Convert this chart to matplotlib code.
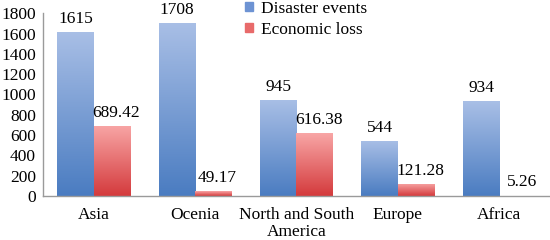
import matplotlib.pyplot as plt
import numpy as np
from matplotlib.colors import LinearSegmentedColormap

regions = ["Asia", "Ocenia", "North and South\nAmerica", "Europe", "Africa"]
disaster_events = [1615, 1708, 945, 544, 934]
economic_loss = [689.42, 49.17, 616.38, 121.28, 5.26]
yticks = [0, 200, 400, 600, 800, 1000, 1200, 1400, 1600, 1800]

plt.rcParams['font.family'] = ['Liberation Serif', 'DejaVu Serif']

blue_cmap = LinearSegmentedColormap.from_list("b", ["#4a7cc1", "#a9bfe6"])
red_cmap = LinearSegmentedColormap.from_list("r", ["#d43a3c", "#f8a6a6"])


def gradient_fill(ax, bars, cmap):
    grad = np.linspace(0, 1, 256).reshape(-1, 1)
    for b in bars:
        x0, y0 = b.get_x(), b.get_y()
        w, h = b.get_width(), b.get_height()
        im = ax.imshow(grad, cmap=cmap, origin="lower", aspect="auto",
                       extent=[x0, x0 + w, y0, y0 + h], zorder=2)
        im.set_clip_path(b)
        b.set_facecolor("none")


fig = plt.figure(figsize=(5.5, 2.4), dpi=100)
ax = fig.add_axes([0.078, 0.183, 0.922, 0.762])

fs = 12.5
x = np.arange(len(regions))
w = 0.36
b1 = ax.bar(x - w / 2, disaster_events, w, color=blue_cmap(0.6), edgecolor="none",
            label="Disaster events", zorder=2)
b2 = ax.bar(x + w / 2, economic_loss, w, color=red_cmap(0.6), edgecolor="none",
            label="Economic loss", zorder=2)
gradient_fill(ax, b1, blue_cmap)
gradient_fill(ax, b2, red_cmap)

for xi, v in zip(x, disaster_events):
    ax.text(xi - w / 2, v + 88, str(v), ha="center", va="baseline", fontsize=fs,
            clip_on=False)
for xi, v in zip(x, economic_loss):
    ax.text(xi + w / 2 + 0.04, v + 90, f"{v:.2f}", ha="center", va="baseline",
            fontsize=fs, clip_on=False)

ax.set_xlim(-0.5, len(regions) - 0.5)
ax.set_ylim(0, 1800)
ax.set_yticks(yticks)
ax.set_yticklabels([str(t) for t in yticks], fontsize=fs)
ax.set_xticks(x)
ax.set_xticklabels(regions, fontsize=fs, linespacing=1.05)
ax.tick_params(length=0)
ax.tick_params(axis="x", pad=8)
ax.tick_params(axis="y", pad=5)
for s in ["top", "right"]:
    ax.spines[s].set_visible(False)
for s in ["left", "bottom"]:
    ax.spines[s].set_color("#9a9a9a")
    ax.spines[s].set_linewidth(1.0)

leg = ax.legend(handles=[plt.Rectangle((0, 0), 1, 1, color="#6d93d3"),
                         plt.Rectangle((0, 0), 1, 1, color="#e86a6a")],
                labels=["Disaster events", "Economic loss"],
                loc="upper left", bbox_to_anchor=(0.385, 1.106), frameon=False,
                fontsize=fs, handlelength=0.45, handleheight=0.45,
                handletextpad=0.45, labelspacing=0.3, borderaxespad=0)

fig.savefig("out.png", dpi=100)
